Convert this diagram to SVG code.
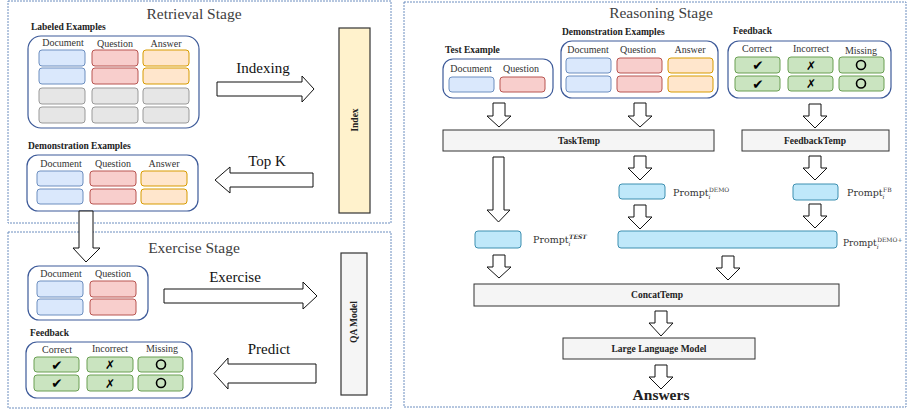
<svg xmlns="http://www.w3.org/2000/svg" width="907" height="411" viewBox="0 0 907 411">
<style>
.stage{fill:none;stroke:#6c8ebf;stroke-width:1;stroke-dasharray:2 1}
.title{font-family:"Liberation Serif",serif;font-size:15.5px;fill:#404040;text-anchor:middle}
.lbl{font-family:"Liberation Serif",serif;font-size:9.5px;font-weight:bold;fill:#222}
.hdr{font-family:"Liberation Serif",serif;font-size:10px;fill:#333;text-anchor:middle}
.big{font-family:"Liberation Serif",serif;font-size:15px;fill:#111;text-anchor:middle}
.grp{fill:#fff;stroke:#3d5a99;stroke-width:1.2}
.b{fill:#dae8fc;stroke:#6c8ebf;stroke-width:1}
.r{fill:#f8cecc;stroke:#b85450;stroke-width:1}
.o{fill:#ffe6cc;stroke:#d79b00;stroke-width:1}
.g{fill:#e6e6e6;stroke:#999;stroke-width:1}
.gr{fill:#cae4c0;stroke:#6a9f53;stroke-width:1}
.pr{fill:#bfe8fa;stroke:#3d8fb0;stroke-width:1}
.tmp{fill:#f5f5f5;stroke:#333;stroke-width:1}
.tt{font-family:"Liberation Serif",serif;font-size:9.5px;font-weight:bold;fill:#222;text-anchor:middle}
.arr{fill:#fff;stroke:#111;stroke-width:1}
.ck{font-family:"DejaVu Sans",sans-serif;font-size:13.5px;fill:#000;text-anchor:middle}
.ic{font-family:"DejaVu Sans",sans-serif;font-size:12px;fill:#000;text-anchor:middle}
.circ{fill:none;stroke:#000;stroke-width:1.6}
.pt{font-family:"DejaVu Serif",serif;font-size:9.5px;fill:#333}
.pt2{font-family:"DejaVu Serif",serif;font-size:9px;fill:#333}
.sm{font-size:6px}
</style>

<g id="retrieval-stage">
<rect class="stage" x="8" y="1" width="383" height="222"/>
<text class="title" x="194" y="19">Retrieval Stage</text>
</g>
<g id="exercise-stage">
<rect class="stage" x="8" y="232" width="383" height="176"/>
<text class="title" x="194" y="253">Exercise Stage</text>
</g>
<g id="reasoning-stage">
<rect class="stage" x="404" y="2" width="502" height="405"/>
<text class="title" x="661" y="18">Reasoning Stage</text>
</g>

<g id="labeled-examples">
<text class="lbl" x="31" y="30">Labeled Examples</text>
<rect class="grp" x="28" y="36" width="171" height="92" rx="13"/>
<text class="hdr" x="63" y="46">Document</text>
<text class="hdr" x="115" y="47">Question</text>
<text class="hdr" x="166" y="47">Answer</text>
<rect class="b" x="39" y="50" width="46" height="16" rx="3"/>
<rect class="r" x="92" y="50" width="46" height="16" rx="3"/>
<rect class="o" x="143" y="50" width="46" height="16" rx="3"/>
<rect class="b" x="39" y="68" width="46" height="16" rx="3"/>
<rect class="r" x="92" y="68" width="46" height="16" rx="3"/>
<rect class="o" x="143" y="68" width="46" height="16" rx="3"/>
<rect class="g" x="39" y="88" width="46" height="16" rx="3"/>
<rect class="g" x="92" y="88" width="46" height="16" rx="3"/>
<rect class="g" x="143" y="88" width="46" height="16" rx="3"/>
<rect class="g" x="39" y="107" width="46" height="16" rx="3"/>
<rect class="g" x="92" y="107" width="46" height="16" rx="3"/>
<rect class="g" x="143" y="107" width="46" height="16" rx="3"/>
</g>

<g id="index">
<rect x="339" y="28" width="31" height="185" fill="#fff2cc" stroke="#333" stroke-width="1.2"/>
<text class="tt" x="0" y="0" transform="translate(358 120) rotate(-90)">Index</text>
</g>

<g id="retrieval-demo-examples">
<text class="lbl" x="28" y="149">Demonstration Examples</text>
<rect class="grp" x="27" y="155" width="171" height="56" rx="11"/>
<text class="hdr" x="61" y="167">Document</text>
<text class="hdr" x="113" y="167">Question</text>
<text class="hdr" x="164" y="167">Answer</text>
<rect class="b" x="37" y="171" width="46" height="15" rx="3"/>
<rect class="r" x="90" y="171" width="46" height="15" rx="3"/>
<rect class="o" x="141" y="171" width="46" height="15" rx="3"/>
<rect class="b" x="37" y="189" width="46" height="15" rx="3"/>
<rect class="r" x="90" y="189" width="46" height="15" rx="3"/>
<rect class="o" x="141" y="189" width="46" height="15" rx="3"/>
</g>

<g id="exercise-inputs">
<rect class="grp" x="28" y="266" width="120" height="54" rx="11"/>
<text class="hdr" x="61" y="277">Document</text>
<text class="hdr" x="113" y="277">Question</text>
<rect class="b" x="37" y="281" width="46" height="16" rx="3"/>
<rect class="r" x="90" y="281" width="46" height="16" rx="3"/>
<rect class="b" x="37" y="299" width="46" height="16" rx="3"/>
<rect class="r" x="90" y="299" width="46" height="16" rx="3"/>
</g>

<g id="qa-model">
<rect x="341" y="253" width="26" height="142" fill="#f5f5f5" stroke="#333" stroke-width="1.2"/>
<text class="tt" x="0" y="0" transform="translate(357 322) rotate(-90)">QA Model</text>
</g>

<g id="exercise-feedback">
<text class="lbl" x="30" y="336">Feedback</text>
<rect class="grp" x="26" y="342" width="166" height="56" rx="11"/>
<text class="hdr" x="57" y="353">Correct</text>
<text class="hdr" x="110" y="352">Incorrect</text>
<text class="hdr" x="162" y="352">Missing</text>
<rect class="gr" x="34" y="357" width="45" height="15" rx="3"/>
<rect class="gr" x="87" y="357" width="46" height="15" rx="3"/>
<rect class="gr" x="138" y="357" width="45" height="15" rx="3"/>
<rect class="gr" x="34" y="375" width="45" height="16" rx="3"/>
<rect class="gr" x="87" y="375" width="46" height="16" rx="3"/>
<rect class="gr" x="138" y="375" width="45" height="16" rx="3"/>
<text class="ck" x="57" y="369.5">✔</text>
<text class="ic" x="110" y="369">✗</text>
<circle class="circ" cx="161" cy="364.5" r="4.5"/>
<text class="ck" x="57" y="388">✔</text>
<text class="ic" x="110" y="387.5">✗</text>
<circle class="circ" cx="161" cy="383" r="4.5"/>
</g>

<g id="test-example">
<text class="lbl" x="445" y="53">Test Example</text>
<rect class="grp" x="443" y="59" width="110" height="39" rx="10"/>
<text class="hdr" x="471" y="72">Document</text>
<text class="hdr" x="521" y="72">Question</text>
<rect class="b" x="449" y="77" width="45" height="15" rx="3"/>
<rect class="r" x="500" y="77" width="45" height="15" rx="3"/>
</g>

<g id="reasoning-demo-examples">
<text class="lbl" x="562" y="35">Demonstration Examples</text>
<rect class="grp" x="561" y="41" width="157" height="57" rx="11"/>
<text class="hdr" x="588" y="53">Document</text>
<text class="hdr" x="638" y="53">Question</text>
<text class="hdr" x="690" y="53">Answer</text>
<rect class="b" x="566" y="58" width="45" height="15" rx="3"/>
<rect class="r" x="617" y="58" width="45" height="15" rx="3"/>
<rect class="o" x="668" y="58" width="45" height="15" rx="3"/>
<rect class="b" x="566" y="76" width="45" height="16" rx="3"/>
<rect class="r" x="617" y="76" width="45" height="16" rx="3"/>
<rect class="o" x="668" y="76" width="45" height="16" rx="3"/>
</g>

<g id="reasoning-feedback">
<text class="lbl" x="733" y="34">Feedback</text>
<rect class="grp" x="728" y="41" width="163" height="57" rx="11"/>
<text class="hdr" x="757" y="52">Correct</text>
<text class="hdr" x="811" y="52">Incorrect</text>
<text class="hdr" x="861" y="54">Missing</text>
<rect class="gr" x="735" y="57" width="45" height="16" rx="3"/>
<rect class="gr" x="788" y="57" width="45" height="16" rx="3"/>
<rect class="gr" x="839" y="57" width="45" height="16" rx="3"/>
<rect class="gr" x="735" y="76" width="45" height="15" rx="3"/>
<rect class="gr" x="788" y="76" width="45" height="15" rx="3"/>
<rect class="gr" x="839" y="76" width="45" height="15" rx="3"/>
<text class="ck" x="758" y="70">✔</text>
<text class="ic" x="811" y="69.5">✗</text>
<circle class="circ" cx="861" cy="65" r="4.5"/>
<text class="ck" x="758" y="88.5">✔</text>
<text class="ic" x="811" y="88">✗</text>
<circle class="circ" cx="861" cy="83.5" r="4.5"/>
</g>

<g id="tasktemp">
<rect class="tmp" x="443" y="130" width="271" height="21"/>
<text class="tt" x="579" y="144">TaskTemp</text>
</g>
<g id="feedbacktemp">
<rect class="tmp" x="742" y="130" width="147" height="21"/>
<text class="tt" x="815" y="144">FeedbackTemp</text>
</g>

<g id="prompt-demo">
<rect class="pr" x="619" y="184" width="46" height="15" rx="3"/>
<text class="pt" x="673" y="196">Prompt<tspan class="sm" font-style="italic" dy="2.5">i</tspan><tspan class="sm" dx="-1.5" dy="-7">DEMO</tspan></text>
</g>
<g id="prompt-fb">
<rect class="pr" x="793" y="184" width="45" height="16" rx="3"/>
<text class="pt" x="847" y="196">Prompt<tspan class="sm" font-style="italic" dy="2.5">i</tspan><tspan class="sm" dx="-1.5" dy="-7">FB</tspan></text>
</g>
<g id="prompt-test">
<rect class="pr" x="475" y="231" width="46" height="17" rx="3"/>
<text class="pt" x="533" y="243">Prompt<tspan class="sm" font-style="italic" dy="2.5">i</tspan><tspan class="sm" font-style="italic" font-weight="bold" dx="-1.5" dy="-7">TEST</tspan></text>
</g>
<g id="prompt-demo-plus">
<rect class="pr" x="618" y="231" width="219" height="17" rx="3"/>
<text class="pt2" x="843" y="246">Prompt<tspan class="sm" font-style="italic" dy="2.5">i</tspan><tspan class="sm" dx="-1.5" dy="-7">DEMO+</tspan></text>
</g>

<g id="concattemp">
<rect class="tmp" x="474" y="284" width="365" height="22"/>
<text class="tt" x="657" y="298">ConcatTemp</text>
</g>
<g id="llm">
<rect class="tmp" x="563" y="338" width="192" height="21"/>
<text class="tt" x="659" y="352">Large Language Model</text>
</g>
<g id="answers">
<text x="661" y="400" font-family="Liberation Serif, serif" font-size="15.5" font-weight="bold" fill="#222" text-anchor="middle">Answers</text>
</g>

<g id="connectors">
<path class="arr" d="M217,82 H302 V76 L314,89 L302,102 V96 H217 Z"/>
<text class="big" x="263" y="73">Indexing</text>
<path class="arr" d="M313,173 H230 V167 L215,180 L230,193 V187 H313 Z"/>
<text class="big" x="267" y="166">Top K</text>
<path class="arr" d="M164,289 H303 V282 L317,296 L303,309 V303 H164 Z"/>
<text class="big" x="235" y="282">Exercise</text>
<path class="arr" d="M316,364 H228 V358 L214,373.5 L228,389 V383 H316 Z"/>
<text class="big" x="269" y="354">Predict</text>
<path class="arr" d="M79,211 H93 V248 H100 L86,262 L73,248 H79 Z"/>
<path class="arr" d="M493,103 H505 V116 H511 L499,127 L487,116 H493 Z"/>
<path class="arr" d="M634,103 H646 V116 H652 L640,127 L628,116 H634 Z"/>
<path class="arr" d="M809,104 H821 V116 H827 L815,128 L803,116 H809 Z"/>
<path class="arr" d="M493,157 H504 V210 H510 L498.5,222 L487,210 H493 Z"/>
<path class="arr" d="M634,156 H646 V168 H652 L640,180 L628,168 H634 Z"/>
<path class="arr" d="M809,156 H821 V168 H827 L815,180 L803,168 H809 Z"/>
<path class="arr" d="M634,205 H646 V217 H652 L640,229 L628,217 H634 Z"/>
<path class="arr" d="M809,204 H821 V216 H827 L815,228 L803,216 H809 Z"/>
<path class="arr" d="M493,255 H505 V267 H511 L499,278 L487,267 H493 Z"/>
<path class="arr" d="M722,256 H734 V268 H740 L728,280 L716,268 H722 Z"/>
<path class="arr" d="M655,311 H667 V323 H673 L661,336 L649,323 H655 Z"/>
<path class="arr" d="M655,365 H667 V377 H673 L661,389 L649,377 H655 Z"/>
</g>
</svg>
